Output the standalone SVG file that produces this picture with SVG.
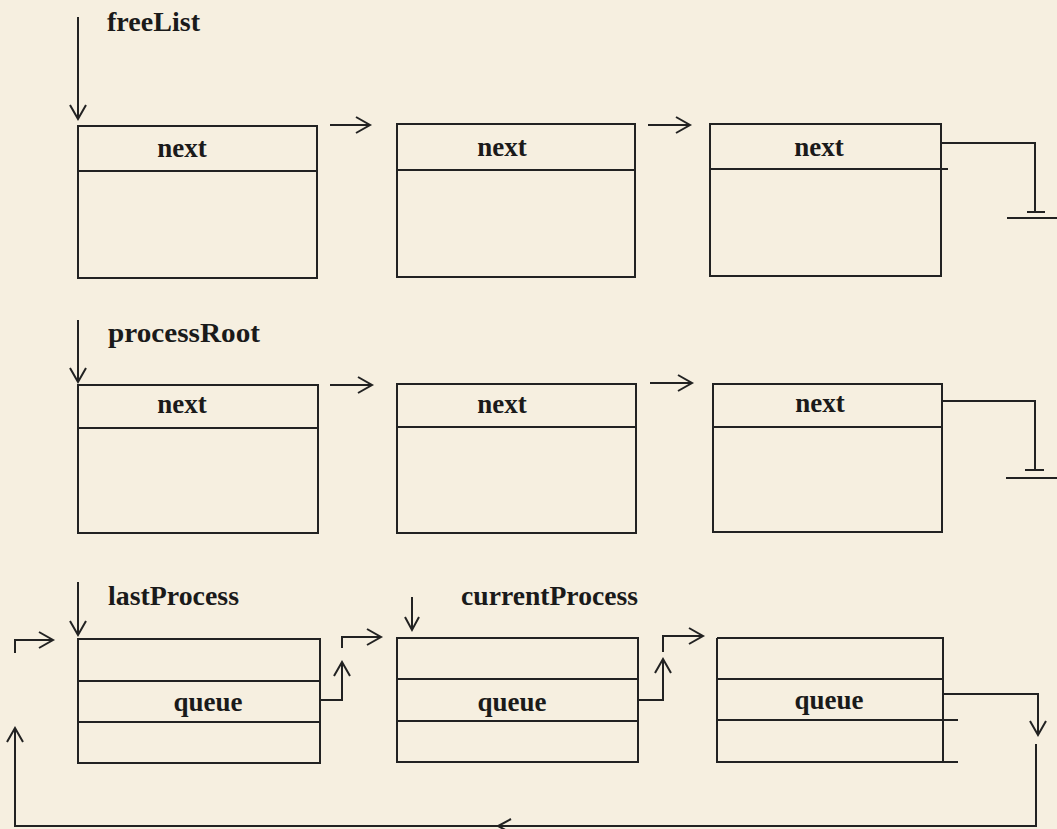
<svg xmlns="http://www.w3.org/2000/svg" width="1057" height="829" viewBox="0 0 1057 829">
  <defs>
    <marker id="ah" viewBox="-16 -10 18 20" markerWidth="18" markerHeight="20" refX="0" refY="0" orient="auto" markerUnits="userSpaceOnUse" overflow="visible">
      <path d="M-14,-8 L0,0 L-14,8" fill="none" stroke="#222" stroke-width="2"/>
    </marker>
    <marker id="ahs" viewBox="-14 -9 16 18" markerWidth="16" markerHeight="18" refX="0" refY="0" orient="auto" markerUnits="userSpaceOnUse" overflow="visible">
      <path d="M-13,-7 L0,0 L-13,7" fill="none" stroke="#222" stroke-width="2"/>
    </marker>
    <style>
      .bx { fill: none; stroke: #222; stroke-width: 2; }
      .ln { fill: none; stroke: #222; stroke-width: 2; }
      .lbl { font-family: "Liberation Serif", "Times New Roman", serif; font-weight: bold; font-size: 27px; fill: #1a1a1a; }
      .fld { font-family: "Liberation Serif", "Times New Roman", serif; font-weight: bold; font-size: 27px; fill: #1a1a1a; text-anchor: middle; }
      .arr { fill: none; stroke: #222; stroke-width: 2; marker-end: url(#ah); }
      .arrs { fill: none; stroke: #222; stroke-width: 2; marker-end: url(#ahs); }
    </style>
  </defs>
  <rect x="0" y="0" width="1057" height="829" fill="#f6efe0"/>

  <!-- Labels -->
  <g id="label-freeList"><text class="lbl" x="107" y="31" textLength="93" lengthAdjust="spacingAndGlyphs">freeList</text></g>
  <g id="label-processRoot"><text class="lbl" x="108" y="342" textLength="152" lengthAdjust="spacingAndGlyphs">processRoot</text></g>
  <g id="label-lastProcess"><text class="lbl" x="108" y="605" textLength="131" lengthAdjust="spacingAndGlyphs">lastProcess</text></g>
  <g id="label-currentProcess"><text class="lbl" x="461" y="605" textLength="177" lengthAdjust="spacingAndGlyphs">currentProcess</text></g>

  <!-- Row 1: free list -->
  <g id="free1">
    <rect class="bx" x="78" y="126" width="239" height="152"/>
    <line class="ln" x1="78" y1="171" x2="317" y2="171"/>
    <text class="fld" x="182" y="157">next</text>
  </g>
  <g id="free2">
    <rect class="bx" x="397" y="124" width="238" height="153"/>
    <line class="ln" x1="397" y1="170" x2="635" y2="170"/>
    <text class="fld" x="502" y="156">next</text>
  </g>
  <g id="free3">
    <rect class="bx" x="710" y="124" width="231" height="152"/>
    <line class="ln" x1="710" y1="169" x2="948" y2="169"/>
    <text class="fld" x="819" y="156">next</text>
  </g>

  <!-- Row 2: process list -->
  <g id="proc1">
    <rect class="bx" x="78" y="385" width="240" height="148"/>
    <line class="ln" x1="78" y1="428" x2="318" y2="428"/>
    <text class="fld" x="182" y="413">next</text>
  </g>
  <g id="proc2">
    <rect class="bx" x="397" y="384" width="239" height="149"/>
    <line class="ln" x1="397" y1="427" x2="636" y2="427"/>
    <text class="fld" x="502" y="413">next</text>
  </g>
  <g id="proc3">
    <rect class="bx" x="713" y="384" width="229" height="148"/>
    <line class="ln" x1="713" y1="427" x2="942" y2="427"/>
    <text class="fld" x="820" y="412">next</text>
  </g>

  <!-- Row 3: ready queue -->
  <g id="queue1">
    <rect class="bx" x="78" y="639" width="242" height="124"/>
    <line class="ln" x1="78" y1="681" x2="320" y2="681"/>
    <line class="ln" x1="78" y1="722" x2="320" y2="722"/>
    <text class="fld" x="208" y="711">queue</text>
  </g>
  <g id="queue2">
    <rect class="bx" x="397" y="638" width="241" height="124"/>
    <line class="ln" x1="397" y1="679" x2="638" y2="679"/>
    <line class="ln" x1="397" y1="721" x2="638" y2="721"/>
    <text class="fld" x="512" y="711">queue</text>
  </g>
  <g id="queue3">
    <path class="bx" d="M717,638 H943 V762 M717,638 V762 H958"/>
    <line class="ln" x1="717" y1="679" x2="943" y2="679"/>
    <line class="ln" x1="717" y1="720" x2="958" y2="720"/>
    <text class="fld" x="829" y="709">queue</text>
  </g>

  <!-- Connectors -->
  <g id="connectors">
    <!-- head pointers -->
    <path class="arr" d="M78,17 V119"/>
    <path class="arr" d="M78,320 V382"/>
    <path class="arr" d="M78,582 V635"/>
    <path class="arrs" d="M412,597 V630"/>

    <!-- row 1 next links -->
    <path class="arr" d="M330,125 H370"/>
    <path class="arr" d="M648,125 H690"/>
    <path class="ln" d="M941,143 H1035 V212"/>
    <line class="ln" x1="1027" y1="212" x2="1045" y2="212" stroke-width="3"/>
    <line class="ln" x1="1007" y1="218" x2="1057" y2="218"/>

    <!-- row 2 next links -->
    <path class="arr" d="M330,385 H372"/>
    <path class="arr" d="M650,383 H692"/>
    <path class="ln" d="M942,401 H1035 V470"/>
    <line class="ln" x1="1025" y1="470" x2="1044" y2="470" stroke-width="3"/>
    <line class="ln" x1="1006" y1="478" x2="1057" y2="478"/>

    <!-- row 3 queue links -->
    <path class="arr" d="M320,700 H342 V662"/>
    <path class="arr" d="M342,648 V637 H381"/>
    <path class="arr" d="M638,700 H663 V659"/>
    <path class="arr" d="M663,652 V636 H703"/>
    <path class="arr" d="M943,694 H1038 V735"/>
    <path class="arrs" d="M1036,744 V826 H498"/>
    <path class="ln" d="M498,826 H15 V742"/>
    <path class="arr" d="M15,826 V728"/>
    <path class="arr" d="M15,653 V640 H53"/>
  </g>
</svg>
